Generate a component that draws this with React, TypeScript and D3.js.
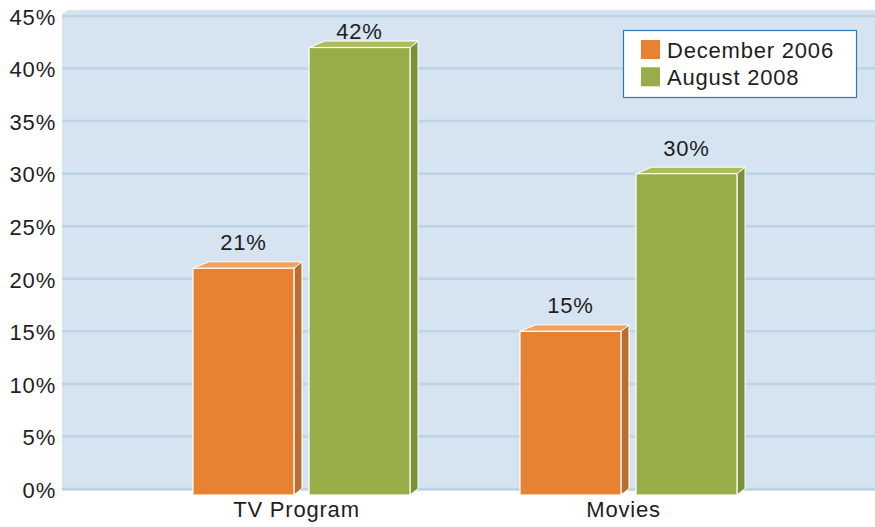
import React, { useEffect, useRef } from "react";
import * as d3 from "d3";

const categories = ["TV Program", "Movies"];
const seriesNames = ["December 2006", "August 2008"];
const dec2006 = [21, 15];
const aug2008 = [42, 30];
const yTicks = [0, 5, 10, 15, 20, 25, 30, 35, 40, 45];

const W = 875;
const H = 527;
const font = "'Liberation Sans', Arial, Helvetica, sans-serif";
const ls = "0.8px";

const colors = [
  { front: "#e68232", side: "#b86d31", top: "#f0a15d" },
  { front: "#98ac47", side: "#7c8f3b", top: "#abbe58" },
];

export default function App() {
  const ref = useRef<SVGSVGElement>(null);

  useEffect(() => {
    const svg = d3.select(ref.current);
    svg.selectAll("*").remove();

    const left = 62;
    const right = 875;
    const y = d3.scaleLinear().domain([0, 45]).range([489, 16]);
    const barBottom = 495;

    const x0 = d3.scaleBand<string>().domain(categories).range([138, 792]);
    const x1 = d3.scaleBand<string>().domain(seriesNames).range([-108.5, 108.5]).paddingInner(0.13);

    // depth of the 3d boxes
    const dxL = 16;
    const dxR = 8;
    const dy = -6.5;

    // back wall
    svg.append("path")
      .attr("d", `M${left},${y(45) - 2} L${left + 6},${y(45) - 6} L${right},${y(45) - 6} L${right},${y(0) + 2} L${left},${y(0) + 2} Z`)
      .attr("fill", "#d6e3f0");

    svg.append("g").selectAll("line")
      .data(yTicks)
      .enter()
      .append("line")
      .attr("x1", left)
      .attr("x2", right)
      .attr("y1", d => y(d))
      .attr("y2", d => y(d))
      .attr("stroke", "#bcd4e6")
      .attr("stroke-width", 2.5);

    svg.append("g").selectAll("text")
      .data(yTicks)
      .enter()
      .append("text")
      .attr("x", 56)
      .attr("y", d => y(d))
      .attr("dy", "0.4em")
      .attr("text-anchor", "end")
      .attr("font-family", font)
      .attr("font-size", 22)
      .attr("letter-spacing", ls)
      .attr("fill", "#1e1e1e")
      .text(d => d + "%");

    const seriesValues = [dec2006, aug2008];
    const bars: { cat: string; s: number; v: number }[] = [];
    categories.forEach((cat, ci) => {
      seriesNames.forEach((_, si) => bars.push({ cat, s: si, v: seriesValues[si][ci] }));
    });

    const bw = x1.bandwidth();
    const g = svg.append("g");
    bars.forEach(b => {
      const bx = (x0(b.cat) as number) + x0.bandwidth() / 2 + (x1(seriesNames[b.s]) as number);
      const top = y(b.v);
      const bottom = barBottom;
      const c = colors[b.s];
      // side face
      g.append("path")
        .attr("d", `M${bx + bw},${top} L${bx + bw + dxR},${top + dy} L${bx + bw + dxR},${bottom + dy} L${bx + bw},${bottom} Z`)
        .attr("fill", c.side)
        .attr("stroke", "#fff")
        .attr("stroke-width", 1);
      // top face
      g.append("path")
        .attr("d", `M${bx},${top} L${bx + dxL},${top + dy} L${bx + bw + dxR},${top + dy} L${bx + bw},${top} Z`)
        .attr("fill", c.top)
        .attr("stroke", "#fff")
        .attr("stroke-width", 1);
      // front face
      g.append("rect")
        .attr("x", bx)
        .attr("y", top)
        .attr("width", bw)
        .attr("height", bottom - top)
        .attr("fill", c.front)
        .attr("stroke", "#fff")
        .attr("stroke-width", 1.2);
      g.append("text")
        .attr("x", bx + bw / 2)
        .attr("y", Math.max(top - 18, 39))
        .attr("text-anchor", "middle")
        .attr("font-family", font)
        .attr("font-size", 22)
        .attr("letter-spacing", ls)
        .attr("fill", "#1e1e1e")
        .text(b.v + "%");
    });

    svg.append("g").selectAll("text")
      .data(categories)
      .enter()
      .append("text")
      .attr("x", d => (x0(d) as number) + x0.bandwidth() / 2 - 5)
      .attr("y", 517)
      .attr("text-anchor", "middle")
      .attr("font-family", font)
      .attr("font-size", 22)
      .attr("letter-spacing", ls)
      .attr("fill", "#1e1e1e")
      .text(d => d);

    // legend
    const lg = svg.append("g").attr("transform", "translate(623.5,30.5)");
    lg.append("rect")
      .attr("width", 233)
      .attr("height", 67)
      .attr("fill", "#fff")
      .attr("stroke", "#2a7ab5")
      .attr("stroke-width", 1.2);
    seriesNames.forEach((name, i) => {
      lg.append("rect")
        .attr("x", 17.5)
        .attr("y", 9.5 + i * 27.3)
        .attr("width", 19)
        .attr("height", 19)
        .attr("fill", colors[i].front);
      lg.append("text")
        .attr("x", 43.5)
        .attr("y", 27 + i * 27.6)
        .attr("font-family", font)
        .attr("font-size", 22)
        .attr("letter-spacing", ls)
        .attr("fill", "#1e1e1e")
        .text(name);
    });
  }, []);

  return (
    <svg ref={ref} width={W} height={H} style={{ position: "absolute", left: 0, top: 0, display: "block" }}></svg>
  );
}
